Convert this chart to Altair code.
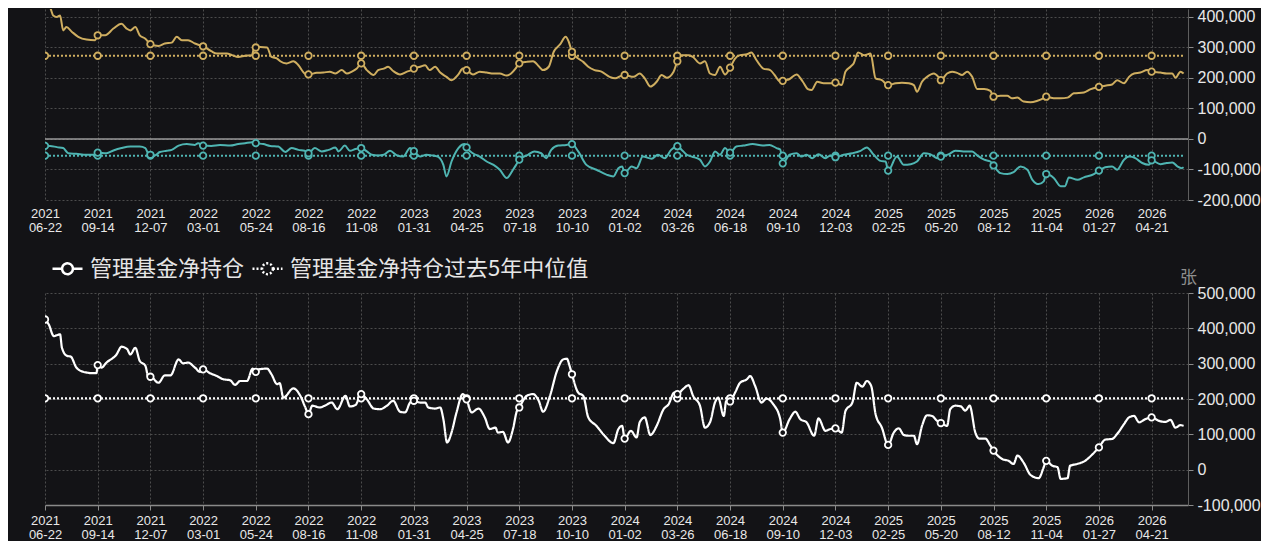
import altair as alt
import pandas as pd

# ---------------- data ----------------
START_DATE = "2021-06-22"
AXIS_END_DATE = "2026-06-18"
TICK_WEEKS = list(range(0, 253, 12))          # x ticks every 12 weeks
LINE_END_WEEK = 259.3

NET_NAME = "管理基金净持仓"
MEDIAN_NAME = "管理基金净持仓过去5年中位值"
UNIT = "张"

# managed money long (gold), weeks since start / contracts
long_weeks = [0, 1.1, 1.9, 2.7, 3.4, 4.2, 4.9, 6.1, 7.6, 9.5, 11.4, 12, 13.7, 15.6, 17.5, 18.6, 19.4, 20.5,
              21.6, 22.8, 24, 25.8, 27.3, 28.9, 30, 31.1, 32.6, 34.2, 35.2, 36, 37.9, 39.1, 40.2, 41.4, 42.5,
              44, 45.6, 47.1, 47.6, 48, 49, 50.5, 51.6, 52.8, 53.6, 55, 56.6, 57.7, 59.2, 60, 61.9, 63.4,
              64.9, 66.1, 67.6, 68.7, 69.9, 71, 72, 73.3, 74.8, 75.9, 77.1, 78.2, 79.3, 80.9, 82.4, 83.5,
              84, 85.4, 86.5, 87.6, 88.8, 90, 91.4, 92.6, 94.1, 95.2, 96, 97.5, 99, 100.6, 102.1, 103.6,
              105.1, 106.2, 107.2, 108, 109.7, 111.2, 112.4, 113.5, 114.7, 115.8, 117.3, 118.5, 119.3, 120,
              121.4, 122.6, 123.7, 125.2, 126.7, 128.6, 129.8, 131.3, 132, 134, 135.4, 136.6, 137.8, 139.3,
              140.4, 141.6, 143.1, 144, 145, 146.5, 147.6, 149.2, 150.3, 151.4, 152.6, 153.7, 154.9, 156,
              157.1, 158.3, 159.8, 160.9, 162, 163.6, 165.1, 166.2, 167.4, 168, 169.6, 171.1, 172.6, 173.7,
              174.5, 175.8, 177.3, 178.9, 180, 181.5, 182.3, 183.4, 184.2, 185.1, 186.5, 188, 189.1, 190.6,
              192, 193.7, 195.2, 196.7, 197.8, 198.6, 199.7, 200.9, 202.4, 203.5, 204, 205.4, 206.6, 207.7,
              208.9, 210, 211.1, 212.3, 213.8, 215.3, 216, 217.6, 219.1, 220.2, 221.4, 222.9, 224.4, 225.9,
              227.5, 228, 229.7, 231.3, 232.8, 234.3, 236.6, 238.1, 240, 241.5, 243, 244.2, 245.7, 246.8,
              248, 249.5, 251, 252, 254, 255.5, 256.7, 257.4, 258.6, 259.3]
long_values = [445000, 431000, 404000, 399000, 404000, 355000, 366000, 350000, 334000, 325000, 323000, 339000,
               339000, 361000, 377000, 361000, 355000, 366000, 339000, 328000, 310000, 304000, 312000, 315000,
               334000, 323000, 323000, 312000, 307000, 303000, 287000, 279000, 279000, 279000, 274000, 268000,
               272000, 274000, 296000, 299000, 301000, 299000, 268000, 263000, 254000, 247000, 254000, 241000,
               214000, 211000, 216000, 217000, 220000, 214000, 225000, 214000, 220000, 230000, 247000, 225000,
               209000, 225000, 230000, 236000, 222000, 211000, 220000, 225000, 230000, 236000, 241000, 225000,
               236000, 217000, 203000, 192000, 211000, 230000, 225000, 211000, 220000, 217000, 214000, 214000,
               207000, 214000, 230000, 247000, 252000, 254000, 238000, 225000, 236000, 285000, 309000, 334000,
               317000, 285000, 263000, 252000, 236000, 225000, 220000, 203000, 198000, 207000, 209000, 203000,
               214000, 198000, 171000, 187000, 209000, 200000, 220000, 254000, 274000, 274000, 268000, 247000,
               254000, 214000, 209000, 236000, 211000, 233000, 263000, 274000, 277000, 283000, 258000, 230000,
               225000, 209000, 187000, 190000, 196000, 211000, 187000, 163000, 160000, 187000, 182000, 182000,
               184000, 176000, 220000, 236000, 247000, 283000, 274000, 279000, 198000, 192000, 176000, 182000,
               184000, 182000, 176000, 154000, 187000, 203000, 214000, 203000, 192000, 214000, 220000, 216000,
               209000, 220000, 203000, 163000, 163000, 157000, 138000, 141000, 141000, 133000, 135000, 122000,
               120000, 124000, 133000, 138000, 133000, 133000, 135000, 149000, 152000, 163000, 170000, 174000,
               178000, 192000, 182000, 203000, 214000, 217000, 225000, 220000, 217000, 214000, 214000, 200000,
               220000, 214000]

# managed money short (teal)
short_weeks = [0, 1.1, 2.7, 4.2, 5.3, 7.2, 9.5, 11.4, 12, 14, 15.6, 17.5, 19.4, 21.6, 22.8, 23.6, 24, 25,
               26.2, 27.7, 28.9, 30.4, 32.3, 34.2, 34.9, 36, 37.9, 39.9, 42.1, 44, 45.6, 47.1, 48, 49.7, 51.3,
               53.2, 54.7, 56.2, 57.7, 59.2, 60, 61.5, 63, 64.5, 66.1, 66.8, 68.3, 69.5, 70.7, 72, 73.3, 74.4,
               75.9, 77.1, 78.6, 80.1, 81.6, 83.1, 84, 85.4, 86.9, 88, 89.5, 90.7, 91.4, 92.6, 94.1, 95.6, 96,
               97.5, 99, 100.6, 102.1, 103.6, 105.1, 106.6, 107.3, 108, 110, 111.5, 113, 114.1, 115.3, 116.8,
               118.7, 120, 121.4, 123.3, 125.6, 127.9, 129.4, 130.5, 131.5, 132, 133.6, 134.7, 136.2, 138.1,
               139.6, 141.1, 142.6, 144, 145, 146.2, 147.3, 149.2, 150.3, 151.4, 152.6, 153.7, 154.9, 156,
               157.5, 159, 161.2, 163.5, 165, 166.5, 167.5, 168, 169.6, 171.1, 172.3, 173.5, 174.7, 176.2,
               177.7, 178.9, 180, 181.9, 183.8, 185.7, 187.2, 188.7, 190.3, 191.5, 192, 194, 195.6, 197.1,
               198.6, 200.1, 201.6, 203.2, 204, 205.8, 207.3, 209.2, 211.1, 212.3, 213.8, 215.3, 216, 217.6,
               219.1, 220.6, 222.1, 223.7, 224.8, 226.3, 227.5, 228, 229.7, 231.3, 232.3, 233.2, 235.1, 236.6,
               238.8, 240, 241.5, 243, 244.2, 245.7, 246.8, 248.3, 249.9, 251.4, 252, 254, 255.5, 256.7, 257.8,
               258.9, 259.3]
short_values = [-23000, -23000, -27000, -30000, -47000, -49000, -52000, -52000, -45000, -47000, -38000, -30000,
                -25000, -25000, -30000, -50000, -52000, -54000, -43000, -39000, -36000, -22000, -17000, -20000,
                -14000, -22000, -23000, -20000, -22000, -17000, -14000, -11000, -14000, -17000, -23000, -25000,
                -43000, -30000, -36000, -39000, -47000, -30000, -41000, -36000, -28000, -41000, -22000, -39000,
                -33000, -30000, -41000, -52000, -54000, -52000, -39000, -54000, -58000, -30000, -40000, -58000,
                -52000, -54000, -58000, -85000, -123000, -74000, -30000, -17000, -28000, -47000, -58000, -74000,
                -85000, -101000, -128000, -101000, -85000, -68000, -52000, -41000, -47000, -63000, -36000,
                -22000, -20000, -17000, -41000, -85000, -101000, -117000, -123000, -96000, -90000, -112000,
                -90000, -96000, -58000, -65000, -52000, -63000, -36000, -24000, -36000, -52000, -58000, -68000,
                -90000, -74000, -41000, -52000, -30000, -45000, -25000, -22000, -17000, -22000, -20000, -30000,
                -35000, -80000, -52000, -47000, -58000, -52000, -63000, -50000, -63000, -54000, -60000, -52000,
                -47000, -39000, -28000, -52000, -72000, -74000, -104000, -58000, -85000, -83000, -74000, -47000,
                -50000, -63000, -58000, -50000, -39000, -41000, -41000, -54000, -68000, -74000, -87000, -112000,
                -115000, -109000, -90000, -101000, -134000, -148000, -139000, -115000, -128000, -155000,
                -155000, -126000, -134000, -126000, -115000, -104000, -93000, -90000, -101000, -68000, -58000,
                -63000, -79000, -85000, -70000, -83000, -79000, -77000, -90000, -96000, -93000]

# managed money net position (white)
net_weeks = [0, 0.8, 2, 2.6, 3.4, 3.9, 5, 5.9, 7.2, 8.7, 11, 11.7, 12, 12.8, 14, 16.3, 17.5, 18.7, 19.4, 20.5,
             21.6, 22.8, 23.6, 24, 25.8, 27.3, 28.5, 30.4, 31.5, 32.6, 34.2, 35.3, 36, 37.6, 39.1, 40.6, 42.1,
             43.3, 44.4, 46, 47.3, 48, 48.7, 50.5, 51.6, 52.8, 53.5, 54.3, 56.6, 58.1, 59.3, 60, 60.8, 62.6,
             63.7, 65.3, 66.5, 68.4, 69.5, 70.7, 72, 73.3, 74.8, 76.3, 77.8, 79.3, 80.9, 82, 83.1, 84, 85.4,
             86.5, 87.3, 88.8, 90, 90.7, 91.6, 92.6, 93.7, 95.2, 96, 97.1, 98.7, 100.2, 101.3, 102.5, 103.2,
             104.3, 105.5, 106.6, 107.5, 108, 109.7, 111.2, 112.4, 113.5, 115, 116.5, 118, 118.8, 119.5, 120,
             121.4, 122.6, 123.7, 125.6, 127.5, 129.4, 130.5, 131.4, 132, 133.5, 134.7, 135.4, 136.6, 137.8,
             139.3, 140.8, 142, 143.3, 144, 145.3, 146.5, 147.6, 149.2, 150.3, 151.4, 152.6, 153.3, 154.5,
             155.2, 156, 157.1, 158.3, 159.8, 160.5, 161.7, 163.2, 164.3, 165.9, 167.4, 168, 169.6, 170.8, 172,
             173.5, 175.1, 176.2, 177.7, 178.9, 180, 181.5, 182.3, 183.8, 184.9, 186.1, 187.2, 188.1, 189.1,
             190.6, 192, 193.3, 194.4, 195.6, 196.7, 197.8, 198.6, 199.7, 200.9, 202, 203.2, 204, 205.4, 206.2,
             207.3, 208.5, 209.6, 210.6, 211.9, 212.7, 214.2, 215.3, 216, 218, 219.5, 220.6, 221.4, 222.9,
             224.4, 226.3, 227.5, 228, 229.4, 230.5, 231.3, 232.8, 233.5, 235, 236.9, 238.5, 240, 241.5, 243,
             244.2, 245.7, 246.8, 248, 249.1, 250.6, 252, 253.7, 255.2, 256.3, 257.4, 258.6, 259.3]
net_values = [425000, 411000, 378000, 380000, 383000, 345000, 322000, 320000, 289000, 277000, 273000, 273000,
              296000, 289000, 303000, 326000, 348000, 341000, 326000, 345000, 308000, 294000, 261000, 263000,
              246000, 267000, 267000, 312000, 301000, 303000, 289000, 277000, 284000, 273000, 265000, 256000,
              253000, 240000, 251000, 251000, 286000, 277000, 284000, 286000, 270000, 242000, 245000, 204000,
              230000, 209000, 176000, 157000, 181000, 176000, 181000, 190000, 171000, 209000, 179000, 183000,
              214000, 199000, 173000, 171000, 181000, 195000, 164000, 162000, 190000, 195000, 190000, 190000,
              176000, 173000, 176000, 143000, 77000, 105000, 162000, 214000, 199000, 162000, 173000, 148000,
              115000, 119000, 105000, 107000, 77000, 115000, 165000, 176000, 209000, 214000, 195000, 164000,
              209000, 279000, 312000, 314000, 295000, 270000, 218000, 209000, 148000, 124000, 96000, 75000,
              115000, 124000, 88000, 110000, 91000, 134000, 148000, 98000, 124000, 171000, 185000, 218000,
              214000, 228000, 239000, 209000, 181000, 119000, 134000, 190000, 204000, 152000, 195000, 193000,
              218000, 246000, 256000, 265000, 237000, 190000, 201000, 185000, 143000, 105000, 143000, 164000,
              143000, 134000, 96000, 145000, 110000, 115000, 117000, 105000, 166000, 190000, 246000, 235000,
              251000, 237000, 157000, 119000, 70000, 105000, 117000, 98000, 96000, 96000, 72000, 124000,
              154000, 152000, 138000, 132000, 124000, 171000, 181000, 179000, 167000, 181000, 105000, 88000,
              88000, 68000, 54000, 30000, 25000, 16000, 40000, 20000, -15000, -24000, 7000, 25000, 11000, 7000,
              -26000, -24000, 11000, 16000, 25000, 44000, 63000, 85000, 87000, 101000, 129000, 148000, 152000,
              134000, 143000, 148000, 138000, 135000, 141000, 119000, 126000, 124000]

LONG_MEDIAN = 272000
SHORT_MEDIAN = -55000
NET_MEDIAN = 202000

TOP_Y_TICKS = [-200000, -100000, 0, 100000, 200000, 300000, 400000]
TOP_Y_DOMAIN = [-200000, 425000]
BOTTOM_Y_TICKS = [-100000, 0, 100000, 200000, 300000, 400000, 500000]
BOTTOM_Y_DOMAIN = [-100000, 500000]

# ---------------- styling ----------------
BG = "#131316"
GRID = "#4c4c4c"
GOLD = "#cfae60"
TEAL = "#4fb5b2"
WHITE = "#ffffff"
LABEL = "#e8e8e8"
AXISLINE = "#8a8a8a"
CJK = "Noto Sans CJK SC"
LATIN = "Liberation Sans"

start = pd.Timestamp(START_DATE)


def week_date(w):
    return (start + pd.Timedelta(days=int(round(w * 7)))).strftime("%Y-%m-%d")


def to_ms(d):
    return int(pd.Timestamp(d, tz="UTC").timestamp() * 1000)


def series_frame(weeks, values, name=""):
    df = pd.DataFrame({
        "date": [week_date(w) for w in weeks],
        "value": values,
        "marker": [w in TICK_WEEKS for w in weeks],
        "series": name,
    })
    return df.drop_duplicates("date")


def median_frame(value, name=""):
    weeks = TICK_WEEKS + [LINE_END_WEEK]
    return series_frame(weeks, [value] * len(weeks), name)


tick_ms = [to_ms(week_date(w)) for w in TICK_WEEKS]
x_scale = alt.Scale(type="utc", domain=[to_ms(START_DATE), to_ms(AXIS_END_DATE)], nice=False)
label_expr = "[utcFormat(datum.value, '%Y'), utcFormat(datum.value, '%m-%d')]"

x_axis_top = alt.Axis(values=tick_ms, labelExpr=label_expr, labelFontSize=13, labelLineHeight=14,
                      labelPadding=7, labelAlign="center", labelBaseline="top", labelFlush=False,
                      labelOverlap=False, domain=False, ticks=False, grid=True, title=None)
x_axis_bottom = alt.Axis(values=tick_ms, labelExpr=label_expr, labelFontSize=13, labelLineHeight=14,
                         labelPadding=4, labelAlign="center", labelBaseline="top", labelFlush=False,
                         labelOverlap=False, domain=True, domainColor=AXISLINE, domainWidth=1.5,
                         ticks=True, tickSize=5, tickColor=AXISLINE, grid=True, title=None)

y_label_expr = "replace(format(datum.value, ','), '\u2212', '-')"
top_y_axis = alt.Axis(orient="right", values=TOP_Y_TICKS, labelExpr=y_label_expr, labelFontSize=16,
                      labelPadding=4, tickSize=5, tickColor=AXISLINE, domain=True, domainColor="#5e5e5e",
                      grid=True, title=None)
bottom_y_axis = alt.Axis(orient="right", values=BOTTOM_Y_TICKS, labelExpr=y_label_expr, labelFontSize=16,
                         labelPadding=4, tickSize=5, tickColor=AXISLINE, domain=True, domainColor="#5e5e5e",
                         grid=True, title=UNIT, titleAngle=0, titleX=0, titleY=-7, titleAlign="center",
                         titleBaseline="bottom", titleFont=CJK, titleFontSize=17, titleFontWeight="normal",
                         titleColor="#8e8e8e")

top_y_scale = alt.Scale(domain=TOP_Y_DOMAIN, nice=False, zero=False)
bottom_y_scale = alt.Scale(domain=BOTTOM_Y_DOMAIN, nice=False, zero=False)


def enc_xy(chart, x_axis, y_scale, y_axis):
    return chart.encode(
        x=alt.X("date:T", scale=x_scale, axis=x_axis),
        y=alt.Y("value:Q", scale=y_scale, axis=y_axis),
    )


def markers(df, color, x_axis, y_scale, y_axis):
    return enc_xy(
        alt.Chart(df).transform_filter("datum.marker").mark_point(
            shape="circle", filled=True, fill=BG, stroke=color, strokeWidth=1.8, size=42, opacity=1,
            clip=True),
        x_axis, y_scale, y_axis)


# ---------------- top panel: long / short ----------------
long_df = series_frame(long_weeks, long_values)
short_df = series_frame(short_weeks, short_values)
long_med = median_frame(LONG_MEDIAN)
short_med = median_frame(SHORT_MEDIAN)

top_layers = [
    alt.Chart(pd.DataFrame({"value": [0]})).mark_rule(color="#9a9a9a", strokeWidth=1.5).encode(
        y=alt.Y("value:Q", scale=top_y_scale, axis=top_y_axis)),
]
for sdf, mdf, col in [(long_df, long_med, GOLD), (short_df, short_med, TEAL)]:
    top_layers.append(enc_xy(alt.Chart(mdf).mark_line(color=col, strokeWidth=2, strokeDash=[2, 2]),
                             x_axis_top, top_y_scale, top_y_axis))
    top_layers.append(enc_xy(alt.Chart(sdf).mark_line(color=col, strokeWidth=2, interpolate="monotone",
                                                      clip=True),
                             x_axis_top, top_y_scale, top_y_axis))
    top_layers.append(markers(mdf, col, x_axis_top, top_y_scale, top_y_axis))
    top_layers.append(markers(sdf, col, x_axis_top, top_y_scale, top_y_axis))

top = alt.layer(*top_layers).properties(width=1143, height=191)

# ---------------- bottom panel: net ----------------
net_df = series_frame(net_weeks, net_values, NET_NAME)
net_med = median_frame(NET_MEDIAN, MEDIAN_NAME)
bottom_df = pd.concat([net_med, net_df], ignore_index=True)

SYMBOL = "M-1,0L-0.36,0M0.36,0L1,0M0.36,0A0.36,0.36,0,1,1,-0.36,0A0.36,0.36,0,1,1,0.36,0"
# the legend is hoisted to the concat level: legendX/legendY measured from the top panel's plot corner
legend = alt.Legend(title=None, orient="none", legendX=6, legendY=243, direction="horizontal",
                    symbolType=SYMBOL, symbolSize=900, symbolStrokeWidth=2.5,
                    labelFont=CJK, labelFontSize=22, labelColor="#e6e6e6", labelOffset=6,
                    columnPadding=2, labelLimit=0)
series_domain = [NET_NAME, MEDIAN_NAME]

bottom_line = alt.Chart(bottom_df).mark_line(strokeWidth=2.2, interpolate="monotone", clip=True).encode(
    x=alt.X("date:T", scale=x_scale, axis=x_axis_bottom),
    y=alt.Y("value:Q", scale=bottom_y_scale, axis=bottom_y_axis),
    color=alt.Color("series:N", scale=alt.Scale(domain=series_domain, range=[WHITE, WHITE]), legend=legend),
    strokeDash=alt.StrokeDash("series:N", scale=alt.Scale(domain=series_domain, range=[[1, 0], [2, 2]]),
                              legend=legend),
)
bottom = alt.layer(
    bottom_line,
    markers(net_med, WHITE, x_axis_bottom, bottom_y_scale, bottom_y_axis),
    markers(net_df, WHITE, x_axis_bottom, bottom_y_scale, bottom_y_axis),
).properties(width=1143, height=212)

chart = alt.vconcat(top, bottom, spacing=34).properties(
    padding={"left": 20, "top": 0, "right": 0, "bottom": 0}
).configure(
    background=BG,
).configure_view(
    strokeWidth=0,
).configure_axis(
    gridColor=GRID, gridDash=[2, 2], gridWidth=1, labelColor=LABEL, labelFont=LATIN,
)

chart.save("out.html", embed_options={"renderer": "svg", "actions": False})
